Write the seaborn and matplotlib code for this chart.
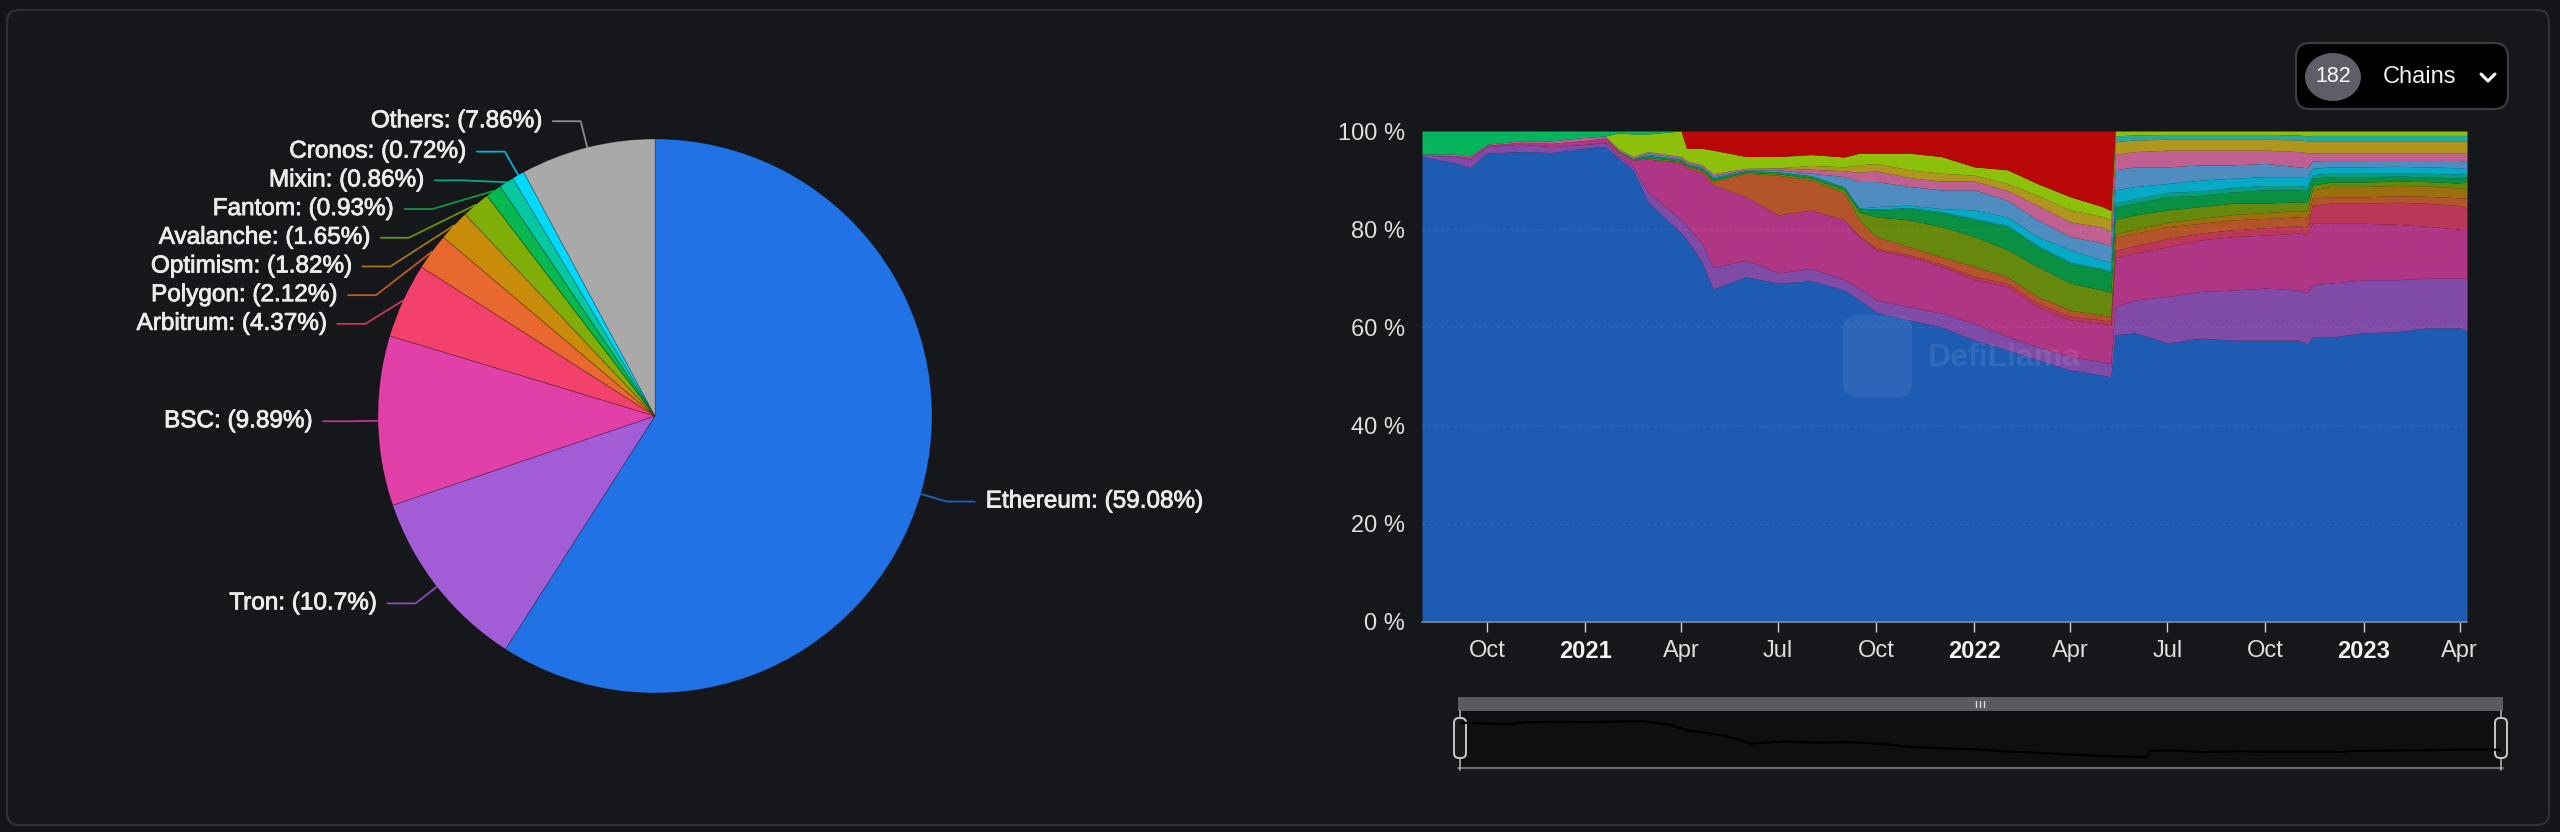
import numpy as np
import pandas as pd
import matplotlib
matplotlib.use("Agg")
import matplotlib.pyplot as plt
import matplotlib.patheffects as pe
from matplotlib.patches import FancyBboxPatch, Rectangle, Ellipse
from matplotlib.lines import Line2D
import seaborn as sns

# ---------------- data ----------------
pie_labels = ["Ethereum", "Tron", "BSC", "Arbitrum", "Polygon", "Optimism",
              "Avalanche", "Fantom", "Mixin", "Cronos", "Others"]
pie_values = [59.08, 10.7, 9.89, 4.37, 2.12, 1.82, 1.65, 0.93, 0.86, 0.72, 7.86]
pie_colors = ["#2172E5", "#A25CD6", "#E040A8", "#F2426B", "#E8682F", "#C98C0A",
              "#80AE08", "#06B84F", "#06C8A0", "#00D9FF", "#A9A9A9"]

dates = ["2020-08-01", "2020-09-01", "2020-09-15", "2020-10-01", "2020-11-01",
         "2020-12-01", "2021-01-01", "2021-01-20", "2021-02-01", "2021-02-15",
         "2021-03-01", "2021-04-01", "2021-04-06", "2021-04-20", "2021-05-01",
         "2021-06-01", "2021-07-01", "2021-08-01", "2021-09-01", "2021-09-15",
         "2021-10-01", "2021-11-01", "2021-12-01", "2022-01-01", "2022-02-01",
         "2022-03-01", "2022-04-01", "2022-05-01", "2022-05-09", "2022-05-13",
         "2022-06-01", "2022-07-01", "2022-08-01", "2022-09-01", "2022-10-01",
         "2022-11-01", "2022-11-09", "2022-11-14", "2022-12-01", "2023-01-01",
         "2023-02-01", "2023-03-01", "2023-04-01", "2023-04-08"]

ethereum = [94.8, 93.5, 92.5, 95.5, 95.8, 95.6, 96.5, 96.9, 94.5, 92.1,
            85.5, 79.2, 78.0, 73.5, 67.8, 70.3, 69.0, 69.5, 67.6, 65.6,
            63.1, 61.5, 60.1, 57.4, 55.4, 53.4, 51.3, 50.3, 49.8, 58.5,
            58.9, 56.8, 57.8, 57.4, 57.4, 57.4, 56.6, 58.0, 58.0, 58.9,
            59.1, 59.9, 59.9, 59.3]
tron = [0.3, 1.3, 1.8, 1.3, 1.5, 1.2, 0.8, 0.7, 0.5, 0.6,
        2.0, 2.7, 2.7, 3.8, 4.4, 3.4, 2.1, 2.5, 2.1, 2.4,
        2.5, 2.7, 2.8, 3.4, 2.7, 2.7, 2.7, 2.7, 2.8, 5.7,
        6.7, 9.5, 9.5, 10.2, 10.6, 10.2, 10.4, 10.7, 11.0, 10.8,
        10.6, 10.1, 10.1, 10.7]
bsc = [0.0, 0.2, 0.3, 0.3, 0.4, 0.7, 0.8, 1.0, 0.8, 1.4,
       6.8, 11.6, 11.8, 14.2, 16.8, 12.9, 11.8, 11.9, 12.2, 10.5,
       10.2, 10.2, 9.5, 8.9, 10.2, 8.1, 7.5, 7.8, 7.9, 10.0,
       9.5, 10.1, 10.5, 10.9, 10.8, 11.6, 11.9, 12.5, 12.2, 11.5,
       11.3, 10.6, 10.0, 9.9]
arbitrum = [0.0] * 19 + [0.2,
            0.3, 0.4, 0.5, 0.7, 0.7, 0.8, 0.8, 0.7, 0.7, 1.5,
            1.6, 1.7, 1.4, 1.4, 1.5, 1.5, 1.6, 3.7, 4.1, 4.1,
            4.5, 4.7, 4.8, 4.4]
polygon = [0.0] * 11 + [0.2, 0.3, 0.5, 0.7, 4.8, 8.1, 6.1, 5.5, 3.2,
           2.4, 1.6, 1.5, 2.0, 1.3, 1.3, 1.2, 1.0, 1.0, 2.6,
           2.5, 2.4, 2.0, 2.0, 1.9, 1.8, 1.8, 1.4, 1.3, 1.3,
           1.3, 1.4, 1.6, 2.1]
optimism = [0.0] * 29 + [0.7,
            0.8, 0.9, 1.0, 1.1, 1.2, 1.3, 1.3, 1.7, 2.1, 2.1,
            2.1, 2.1, 2.0, 1.8]
avalanche = [0.0] * 10 + [0.3, 0.2, 0.2, 0.2, 0.3, 0.2, 0.3, 0.4, 0.6, 1.6,
             4.0, 5.5, 6.1, 6.1, 5.5, 6.1, 5.5, 5.1, 5.0, 3.0,
             2.9, 2.5, 2.4, 2.3, 1.9, 1.8, 1.8, 1.0, 0.9, 0.9,
             0.9, 0.9, 1.0, 1.6]
fantom = [0.0] * 8 + [0.3, 0.3,
          0.4, 0.3, 0.3, 0.3, 0.4, 0.3, 0.4, 0.5, 0.6, 0.6,
          1.4, 2.3, 2.8, 3.4, 4.7, 4.0, 4.0, 4.1, 4.0, 2.5,
          2.4, 2.7, 2.3, 2.3, 2.7, 2.4, 2.4, 1.4, 1.1, 1.1,
          1.0, 1.0, 1.0, 0.9]
mixin = [0.0] * 19 + [0.1,
         0.2, 0.2, 0.3, 0.3, 0.3, 0.3, 0.3, 0.3, 0.3, 0.9,
         0.9, 0.9, 0.9, 0.9, 0.9, 0.9, 0.9, 0.7, 0.7, 0.7,
         0.7, 0.7, 0.8, 0.9]
cronos = [0.0] * 10 + [0.2, 0.0, 0.0, 0.1, 0.2, 0.0, 0.0, 0.0, 0.0, 0.1,
          0.5, 0.5, 0.6, 1.7, 1.7, 1.8, 2.5, 1.7, 1.7, 2.6,
          2.5, 1.8, 2.2, 1.9, 1.8, 1.8, 1.8, 1.3, 1.3, 1.3,
          1.3, 1.3, 1.3, 0.7]
solana = [0.0] * 10 + [0.3, 0.3, 0.3, 0.3, 0.3, 0.2, 0.4, 0.5, 2.1, 5.4,
          5.1, 3.8, 3.8, 4.1, 3.4, 3.4, 2.7, 3.5, 3.4, 4.1,
          4.0, 3.4, 3.1, 2.7, 2.7, 2.0, 2.0, 1.5, 1.3, 1.3,
          1.2, 1.3, 1.5, 1.4]
kava = [0.2, 0.3, 0.3, 0.2, 0.3, 0.5, 0.6, 0.4, 0.3, 0.4,
        0.3, 0.3, 0.3, 0.3, 0.4, 0.3, 0.4, 0.8, 1.2, 1.9,
        2.2, 1.8, 1.8, 1.8, 2.0, 3.0, 3.0, 3.2, 3.0, 3.2,
        3.1, 3.4, 3.0, 3.0, 2.7, 3.1, 3.1, 1.6, 1.5, 1.5,
        1.5, 1.5, 1.5, 1.8]
klaytn = [0.0] * 17 + [0.8, 0.8, 1.5,
          1.5, 1.6, 1.6, 1.2, 1.4, 2.0, 2.4, 2.2, 2.2, 2.5,
          2.4, 2.2, 2.2, 2.2, 2.2, 2.4, 2.4, 2.5, 2.5, 2.5,
          2.5, 2.5, 2.5, 2.5]
osmosis = [0.0] * 29 + [1.2,
           1.0, 1.0, 1.0, 1.0, 1.0, 1.0, 1.0, 1.1, 1.1, 1.1,
           1.1, 1.1, 1.1, 1.1]
heco = [0.0] * 8 + [3.2, 4.6,
        3.6, 5.2, 2.6, 3.3, 4.8, 2.4, 2.3, 2.2, 2.0, 2.4,
        2.1, 3.4, 3.4, 1.7, 2.8, 2.4, 2.7, 2.0, 2.0, 1.0,
        0.8, 0.7, 0.7, 0.7, 0.7, 0.8, 1.0, 0.9, 0.9, 0.9,
        0.9, 0.9, 0.9, 0.9]
waves = [4.7, 4.7, 5.1, 2.7, 2.0, 2.0, 1.3, 1.0, 0.4, 0.6,
         0.6] + [0.0] * 33
terra = [0.0] * 12 + [3.5, 3.5, 3.9, 5.2, 5.2, 4.8, 5.3, 4.5,
         4.5, 4.5, 5.2, 7.3, 7.9, 10.7, 13.4, 15.4, 16.2] + [0.0] * 15

series_names = ["Ethereum", "Tron", "BSC", "Arbitrum", "Polygon", "Optimism",
                "Avalanche", "Fantom", "Mixin", "Cronos", "Solana", "Kava",
                "Klaytn", "Osmosis", "Heco", "Waves", "Terra"]
series_values = [ethereum, tron, bsc, arbitrum, polygon, optimism, avalanche,
                 fantom, mixin, cronos, solana, kava, klaytn, osmosis, heco,
                 waves, terra]
series_colors = ["#2172E5", "#A25CD6", "#E040A8", "#F2426B", "#E8682F", "#C98C0A",
                 "#80AE08", "#06B84F", "#06C8A0", "#00D9FF", "#62B3F7", "#F979B7",
                 "#E0C020", "#2FD8C8", "#B4F806", "#03E976", "#EF0000"]

x_tick_dates = ["2020-10-01", "2021-01-01", "2021-04-01", "2021-07-01", "2021-10-01",
                "2022-01-01", "2022-04-01", "2022-07-01", "2022-10-01", "2023-01-01",
                "2023-04-01"]
x_tick_labels = ["Oct", "2021", "Apr", "Jul", "Oct", "2022", "Apr", "Jul", "Oct",
                 "2023", "Apr"]
y_ticks = [0, 20, 40, 60, 80, 100]
y_tick_labels = ["0 %", "20 %", "40 %", "60 %", "80 %", "100 %"]
chain_count = "182"
chain_word = "Chains"

# ---------------- style ----------------
BG = "#141518"
CARD = "#16171b"
W, H = 2560, 832

sns.set_theme(style="dark", rc={"axes.facecolor": BG, "figure.facecolor": BG})
plt.rcParams["font.family"] = ["Liberation Sans", "DejaVu Sans"]

fig = plt.figure(figsize=(W / 100, H / 100), dpi=100)
fig.patch.set_facecolor(BG)


def px_rect(x0, y0, x1, y1):
    return [x0 / W, 1 - y1 / H, (x1 - x0) / W, (y1 - y0) / H]


def sy(y):
    return H - y


def blend(c, alpha=0.75, bg=CARD):
    a = np.array(matplotlib.colors.to_rgb(c))
    b = np.array(matplotlib.colors.to_rgb(bg))
    return tuple(alpha * a + (1 - alpha) * b)


heavy = lambda col: [pe.withStroke(linewidth=0.6, foreground=col)]

# background / card / pie layer
ax0 = fig.add_axes([0, 0, 1, 1])
ax0.set_facecolor(BG)
ax0.add_patch(FancyBboxPatch((7, sy(825)), 2542, 815,
                             boxstyle="round,pad=0,rounding_size=12",
                             fc=CARD, ec="#2e3036", lw=1.6, zorder=0))

cx, cy, r = 655, sy(416), 277
wedges, _ = ax0.pie(pie_values, colors=pie_colors, startangle=90, counterclock=False,
                    center=(cx, cy), radius=r,
                    wedgeprops=dict(linewidth=0.6, edgecolor=(0, 0, 0, 0.25)))

R_el, len2, gap, spacing = 304, 28, 11, 28.7
items = []
for w, name, val, col in zip(wedges, pie_labels, pie_values, pie_colors):
    mid = np.deg2rad((w.theta1 + w.theta2) / 2)
    ex, ey = cx + r * np.cos(mid), cy + r * np.sin(mid)
    lx, ly = cx + R_el * np.cos(mid), cy + R_el * np.sin(mid)
    items.append(dict(name=name, val=val, col=col, ex=ex, ey=ey, lx=lx, ly=ly,
                      left=np.cos(mid) < 0))

left = sorted([it for it in items if it["left"]], key=lambda d: -d["ly"])
prev = None
for it in left:
    y0 = it["ly"]
    if prev is not None and prev - it["ly"] < spacing:
        it["ly"] = prev - spacing
    if abs(it["ly"] - y0) > 1:
        dy = abs(it["ly"] - cy)
        it["lx"] = cx - np.sqrt(max(R_el ** 2 - dy ** 2, 0))
    prev = it["ly"]

for it in items:
    d = -1 if it["left"] else 1
    hx = it["lx"] + d * len2
    ax0.add_line(Line2D([it["ex"], it["lx"], hx], [it["ey"], it["ly"], it["ly"]],
                        color=it["col"], lw=1.3, alpha=0.8, zorder=3))
    ax0.text(hx + d * gap, it["ly"], f"{it['name']}: ({it['val']:g}%)",
             ha="right" if it["left"] else "left", va="center",
             fontsize=17.5, color="#ececec", zorder=4, path_effects=heavy("#ececec"))

# "182 Chains" button
ax0.add_patch(FancyBboxPatch((2296, sy(109)), 212, 66,
                             boxstyle="round,pad=0,rounding_size=14",
                             fc="#000000", ec="#3c3d43", lw=1.6, zorder=2))
ax0.add_patch(Ellipse((2333, sy(77)), 56, 48, fc="#5d5e68", ec="none", zorder=3))
ax0.text(2333, sy(77), chain_count, ha="center", va="center", fontsize=15.5,
         color="white", zorder=4)
ax0.text(2420, sy(77), chain_word, ha="center", va="center", fontsize=17,
         color="#f0f0f0", zorder=4)
ax0.add_line(Line2D([2481, 2488, 2495], [sy(74), sy(81), sy(74)], color="white",
                    lw=2.2, solid_capstyle="round", zorder=4))

# range slider decorations
sx0, sx1 = 1458, 2503
ax0.add_patch(Rectangle((sx0, sy(711)), sx1 - sx0, 14, fc="#5a5b60", ec="none", zorder=2))
ax0.add_patch(Rectangle((sx0, sy(768)), sx1 - sx0, 57, fc="#0e0f11", ec="none", zorder=2))
ax0.add_line(Line2D([sx0, sx1], [sy(768), sy(768)], color="#6b6c70", lw=1.5, zorder=3))
for gx in (1976, 1980, 1984):
    ax0.add_line(Line2D([gx, gx], [sy(701), sy(707)], color="#dddddd", lw=1, zorder=3))
for hx in (sx0 + 2, sx1 - 2):
    ax0.add_line(Line2D([hx, hx], [sy(711), sy(770)], color="#b0b0b0", lw=1.2, zorder=3))
    ax0.add_patch(FancyBboxPatch((hx - 6, sy(758)), 12, 40,
                                 boxstyle="round,pad=0,rounding_size=5",
                                 fc="#1a1a1c", ec="#c8c8c8", lw=1.4, zorder=4))

ax0.set_xlim(0, W)
ax0.set_ylim(0, H)
ax0.set_aspect("auto")
ax0.axis("off")

# ---------------- stacked area (percent) ----------------
dt = pd.to_datetime(dates)
df = pd.DataFrame(dict(zip(series_names, series_values)), index=dt)
pct = df.div(df.sum(axis=1), axis=0) * 100

ax = fig.add_axes(px_rect(1422, 131, 2467, 622))
ax.set_facecolor("none")
ax.stackplot(pct.index, *[pct[c].values for c in series_names],
             colors=[blend(c) for c in series_colors], linewidth=0, zorder=2)
for gy in (20, 40, 60, 80):
    ax.axhline(gy, color="white", alpha=0.09, lw=0.9, ls=(0, (2, 3)), zorder=3)
ax.axhline(0, color="#80828a", lw=1.3, zorder=4, clip_on=False)
ax.set_xlim(dt[0], dt[-1])
ax.set_ylim(0, 100)
ax.set_xticks(pd.to_datetime(x_tick_dates))
ax.set_xticklabels(x_tick_labels)
ax.set_yticks(y_ticks)
ax.set_yticklabels(y_tick_labels)
ax.tick_params(axis="x", length=7, width=1, color="#cfcfcf", pad=6, labelsize=17,
               labelcolor="#dedede", bottom=True)
ax.tick_params(axis="y", length=0, pad=12, labelsize=17, labelcolor="#dedede", left=True)
for lab in ax.get_xticklabels():
    if lab.get_text().isdigit():
        lab.set_fontweight("bold")
        lab.set_color("#f4f4f4")
for s in ax.spines.values():
    s.set_visible(False)
ax.grid(False)

# watermark
axw = fig.add_axes([0, 0, 1, 1], zorder=5)
axw.set_xlim(0, W)
axw.set_ylim(0, H)
axw.axis("off")
axw.patch.set_alpha(0)
axw.add_patch(FancyBboxPatch((1843, sy(397)), 69, 82, boxstyle="round,pad=0,rounding_size=14",
                             fc=(1, 1, 1, 0.07), ec="none"))
axw.text(2004, sy(358), "DefiLlama", ha="center", va="center", fontsize=23,
         fontweight="bold", color=(1, 1, 1, 0.09))

# slider preview line (seaborn)
axs = fig.add_axes(px_rect(sx0 + 2, 711, sx1 - 2, 768), zorder=6)
axs.patch.set_alpha(0)
sns.lineplot(x=dt, y=ethereum, ax=axs, color="black", lw=1.6)
axs.set_xlim(dt[0], dt[-1])
axs.set_ylim(36, 110)
axs.axis("off")

fig.savefig("out.png", dpi=100, facecolor=BG)
